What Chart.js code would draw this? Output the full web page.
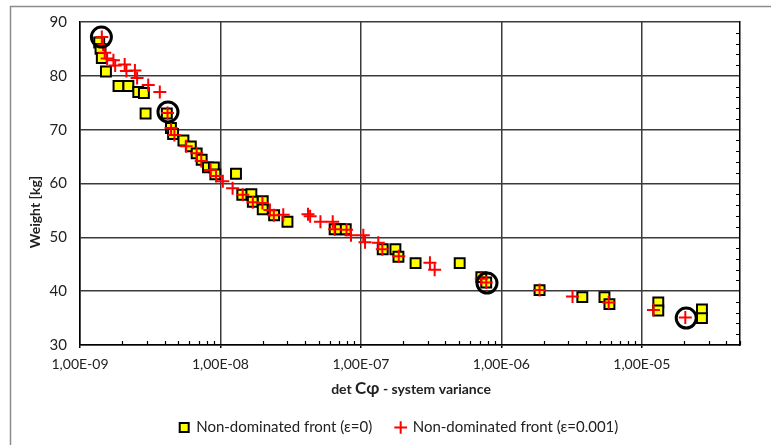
<!DOCTYPE html>
<html>
<head>
<meta charset="utf-8">
<script src="https://cdn.jsdelivr.net/npm/chart.js@4.4.1/dist/chart.umd.min.js"></script>
<style>
  body { margin: 0; background: #fff; }
  #chart { display: block; }
</style>
</head>
<body>
<canvas id="chart" width="771" height="445"></canvas>
<script>
// Non-dominated front, epsilon = 0 (yellow squares)
const frontX = [1.37e-9, 1.40e-9, 1.43e-9, 1.53e-9, 1.88e-9, 2.21e-9, 2.60e-9, 2.85e-9, 2.93e-9, 4.15e-9,
    4.44e-9, 4.60e-9, 5.45e-9, 6.15e-9, 6.77e-9, 7.35e-9, 8.15e-9, 8.98e-9, 9.20e-9, 1.29e-8,
    1.43e-8, 1.66e-8, 1.70e-8, 2.00e-8, 2.00e-8, 2.41e-8, 3.00e-8, 6.50e-8, 7.10e-8, 7.80e-8,
    1.43e-7, 1.76e-7, 1.85e-7, 2.45e-7, 5.05e-7, 7.20e-7, 7.80e-7, 1.87e-6, 3.77e-6, 5.42e-6,
    5.88e-6, 1.31e-5, 1.31e-5, 2.68e-5, 2.68e-5];
const frontY = [86.2, 85.0, 83.3, 80.8, 78.1, 78.1, 77.0, 76.8, 73.0, 73.0,
    70.3, 69.2, 68.0, 66.9, 65.6, 64.4, 63.0, 63.0, 61.7, 61.8,
    57.9, 58.0, 56.6, 56.7, 55.2, 54.1, 52.9, 51.5, 51.5, 51.5,
    47.8, 47.8, 46.4, 45.2, 45.2, 42.6, 41.6, 40.2, 38.9, 38.9,
    37.6, 37.9, 36.4, 36.6, 35.0];

// Non-dominated front, epsilon = 0.001 (red crosses)
const epsX = [1.43e-9, 1.46e-9, 1.50e-9, 1.56e-9, 1.73e-9, 1.78e-9, 2.08e-9, 2.14e-9, 2.46e-9, 2.55e-9,
    3.06e-9, 3.70e-9, 4.20e-9, 4.45e-9, 4.70e-9, 5.70e-9, 6.77e-9, 7.30e-9, 8.50e-9, 9.30e-9,
    1.04e-8, 1.22e-8, 1.44e-8, 1.70e-8, 1.99e-8, 2.25e-8, 2.40e-8, 2.80e-8, 4.20e-8, 4.35e-8,
    5.15e-8, 6.30e-8, 6.50e-8, 7.90e-8, 8.50e-8, 1.04e-7, 1.07e-7, 1.33e-7, 1.42e-7, 1.86e-7,
    3.10e-7, 3.35e-7, 7.20e-7, 7.80e-7, 1.87e-6, 3.21e-6, 5.81e-6, 1.21e-5, 2.04e-5];
const epsY = [87.2, 85.8, 84.3, 83.2, 82.9, 81.9, 82.1, 80.9, 81.0, 79.6,
    78.3, 77.0, 73.1, 70.3, 69.0, 66.9, 65.6, 64.2, 62.5, 61.4,
    60.4, 59.1, 57.9, 56.5, 56.4, 55.1, 54.1, 54.2, 54.3, 53.9,
    52.9, 52.9, 51.5, 51.4, 50.4, 50.4, 49.1, 49.0, 47.8, 46.5,
    45.3, 44.0, 42.3, 41.6, 40.2, 39.0, 37.9, 36.5, 35.1];

// highlighted solutions (black circles)
const markX = [1.42e-9, 4.23e-9, 7.90e-7, 2.07e-5];
const markY = [87.2, 73.3, 41.5, 35.0];

const xDecades = [1e-9, 1e-8, 1e-7, 1e-6, 1e-5];
const xLabels = ['1,00E-09', '1,00E-08', '1,00E-07', '1,00E-06', '1,00E-05'];
const xMin = 1e-9, xMax = 5e-5;
const yMin = 30, yMax = 90, yStep = 10, yMinorStep = 2;

const FONT = 'Lato, "Liberation Sans", Arial, sans-serif';
const GRID = '#3a3a3a';

function toPoints(xs, ys) {
    return xs.map((x, i) => ({ x: x, y: ys[i] }));
}

// every 1..9 x 10^n between min and max
function logTicks() {
    const out = [];
    for (let e = -9; e <= -5; e++) {
        for (let m = 1; m <= 9; m++) {
            const v = m * Math.pow(10, e);
            if (v <= xMax * 1.0001) out.push(v);
        }
    }
    return out;
}

function isDecade(v) {
    return xDecades.some(d => Math.abs(v / d - 1) < 1e-6);
}

const extras = {
    id: 'extras',
    afterDraw(chart) {
        const ctx = chart.ctx;
        const area = chart.chartArea;
        const xs = chart.scales.x;
        const ys = chart.scales.y;
        ctx.save();

        // outer frame
        ctx.strokeStyle = '#8c8c8c';
        ctx.lineWidth = 1.5;
        ctx.strokeRect(10.5, 6.5, 900, 600);

        // minor ticks pointing inward
        ctx.strokeStyle = '#000';
        ctx.lineWidth = 1.2;
        ctx.beginPath();
        logTicks().forEach(v => {
            if (isDecade(v)) return;
            const px = Math.round(xs.getPixelForValue(v)) + 0.5;
            ctx.moveTo(px, area.bottom);
            ctx.lineTo(px, area.bottom - 4);
        });
        for (let v = yMin + yMinorStep; v < yMax; v += yMinorStep) {
            if (v % yStep === 0) continue;
            const py = Math.round(ys.getPixelForValue(v)) + 0.5;
            ctx.moveTo(area.right, py);
            ctx.lineTo(area.right - 4, py);
        }
        ctx.stroke();

        // axis titles
        ctx.fillStyle = '#222';
        ctx.textBaseline = 'middle';
        const parts = [['det ', 'bold 14px ' + FONT], ['C\u03c6', 'bold 17px ' + FONT], [' - system variance', 'bold 14px ' + FONT]];
        let total = 0;
        parts.forEach(p => { ctx.font = p[1]; total += ctx.measureText(p[0]).width; });
        let cx = 411 - total / 2;
        ctx.textAlign = 'left';
        parts.forEach(p => {
            ctx.font = p[1];
            ctx.fillText(p[0], cx, 389);
            cx += ctx.measureText(p[0]).width;
        });

        ctx.translate(35, 212);
        ctx.rotate(-Math.PI / 2);
        ctx.textAlign = 'center';
        ctx.font = 'bold 14px ' + FONT;
        ctx.fillText('Weight [kg]', 0, 0);
        ctx.restore();
    }
};

new Chart(document.getElementById('chart'), {
    type: 'scatter',
    data: {
        datasets: [
            {
                label: 'Non-dominated front (\u03b5=0)',
                data: toPoints(frontX, frontY),
                pointStyle: 'rect',
                pointRadius: 7,
                pointBorderWidth: 2,
                backgroundColor: '#ffff00',
                borderColor: '#000',
                order: 3
            },
            {
                label: 'Non-dominated front (\u03b5=0.001)',
                data: toPoints(epsX, epsY),
                pointStyle: 'cross',
                pointRadius: 6.5,
                pointBorderWidth: 2,
                backgroundColor: '#ff0000',
                borderColor: '#ff0000',
                order: 2
            },
            {
                label: 'selected',
                data: toPoints(markX, markY),
                pointStyle: 'circle',
                pointRadius: 10,
                pointBorderWidth: 3,
                backgroundColor: 'transparent',
                borderColor: '#000',
                order: 1
            }
        ]
    },
    options: {
        responsive: false,
        animation: false,
        layout: { padding: { left: 27, right: 0, top: 21, bottom: 0 } },
        plugins: {
            tooltip: { enabled: false },
            legend: {
                position: 'bottom',
                labels: {
                    usePointStyle: true,
                    boxWidth: 9,
                    boxHeight: 9,
                    padding: 24,
                    color: '#222',
                    font: { family: FONT, size: 15 },
                    filter: item => item.datasetIndex < 2,
                    sort: (a, b) => a.datasetIndex - b.datasetIndex
                }
            }
        },
        scales: {
            x: {
                type: 'logarithmic',
                min: xMin,
                max: xMax,
                afterBuildTicks(scale) {
                    scale.ticks = logTicks().map(v => ({ value: v, major: isDecade(v) }));
                },
                afterFit(scale) { scale.height = 51; },
                ticks: {
                    autoSkip: false,
                    maxRotation: 0,
                    padding: 8,
                    color: '#222',
                    font: { family: FONT, size: 14 },
                    callback: (v) => {
                        const i = xDecades.findIndex(d => Math.abs(v / d - 1) < 1e-6);
                        return i >= 0 ? xLabels[i] : '';
                    }
                },
                grid: {
                    color: c => (c.tick && isDecade(c.tick.value) ? GRID : 'transparent'),
                    tickColor: c => (c.tick && isDecade(c.tick.value) ? '#000' : 'transparent'),
                    lineWidth: 1.5,
                    tickLength: 3
                },
                border: { color: '#000', width: 1.5 }
            },
            y: {
                min: yMin,
                max: yMax,
                afterFit(scale) { scale.width = 53; },
                ticks: {
                    stepSize: yStep,
                    padding: 13,
                    color: '#222',
                    font: { family: FONT, size: 15 }
                },
                grid: { color: GRID, lineWidth: 1.5, drawTicks: false },
                border: { color: '#000', width: 1.5 }
            },
            y2: {
                position: 'right',
                min: yMin,
                max: yMax,
                afterFit(scale) { scale.width = 31; },
                ticks: { display: false },
                grid: { drawOnChartArea: false, drawTicks: false },
                border: { color: '#000', width: 1.5 }
            }
        }
    },
    plugins: [extras]
});
</script>
</body>
</html>
